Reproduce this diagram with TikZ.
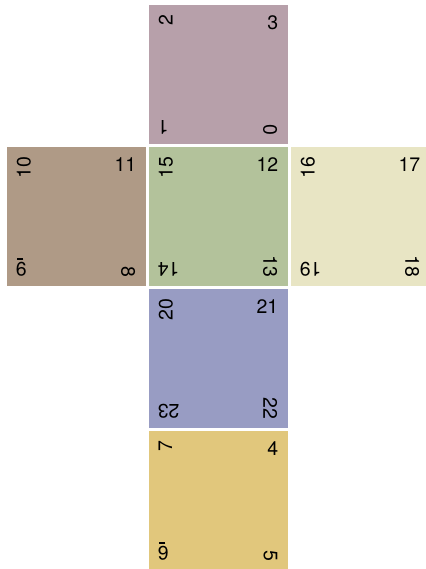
\documentclass[tikz,border=0pt]{standalone}
\usepackage{fontspec}
\setmainfont{TeX Gyre Heros}
\usetikzlibrary{positioning}
\definecolor{cmauve}{RGB}{183,160,170}
\definecolor{cbrown}{RGB}{175,154,134}
\definecolor{cgreen}{RGB}{179,194,155}
\definecolor{cbeige}{RGB}{232,229,196}
\definecolor{cblue}{RGB}{152,156,195}
\definecolor{cyellow}{RGB}{225,199,124}
\newcommand{\marknum}[1]{#1\llap{\rule[-4pt]{6.5pt}{1.2pt}\hspace{1.2pt}}}

\begin{document}
\begin{tikzpicture}[
  x=1pt,y=1pt,
  node distance=3pt,
  face/.style={minimum size=139pt,inner sep=0pt,outer sep=0pt},
  num/.style={anchor=north east,inner sep=0pt,xshift=-9pt,yshift=-10pt,
    font=\fontsize{19.5}{20}\selectfont}
]
  \useasboundingbox (0,0) rectangle (425,569);

  % faces of the net
  \node[face,fill=cgreen] (front) at (218,352) {};
  \node[face,fill=cmauve,above=of front] (top) {};
  \node[face,fill=cbrown,left=of front] (left) {};
  \node[face,fill=cbeige,right=of front] (right) {};
  \node[face,fill=cblue,below=of front] (bottom) {};
  \node[face,fill=cyellow,below=of bottom] (back) {};

  % corner numbers
  \node[rotate=90,num] at (top.north west) {2};
  \node[num] at (top.north east) {3};
  \node[rotate=-90,num] at (top.south east) {0};
  \node[rotate=180,num] at (top.south west) {1};

  \node[rotate=90,num] at (left.north west) {10};
  \node[num] at (left.north east) {11};
  \node[rotate=-90,num] at (left.south east) {8};
  \node[rotate=180,num] at (left.south west) {\marknum{9}};

  \node[rotate=90,num] at (front.north west) {15};
  \node[num] at (front.north east) {12};
  \node[rotate=-90,num] at (front.south east) {13};
  \node[rotate=180,num] at (front.south west) {14};

  \node[rotate=90,num] at (right.north west) {16};
  \node[num] at (right.north east) {17};
  \node[rotate=-90,num] at (right.south east) {18};
  \node[rotate=180,num] at (right.south west) {19};

  \node[rotate=90,num] at (bottom.north west) {20};
  \node[num] at (bottom.north east) {21};
  \node[rotate=-90,num] at (bottom.south east) {22};
  \node[rotate=180,num] at (bottom.south west) {23};

  \node[rotate=90,num] at (back.north west) {7};
  \node[num] at (back.north east) {4};
  \node[rotate=-90,num] at (back.south east) {5};
  \node[rotate=180,num] at (back.south west) {\marknum{6}};
\end{tikzpicture}
\end{document}
